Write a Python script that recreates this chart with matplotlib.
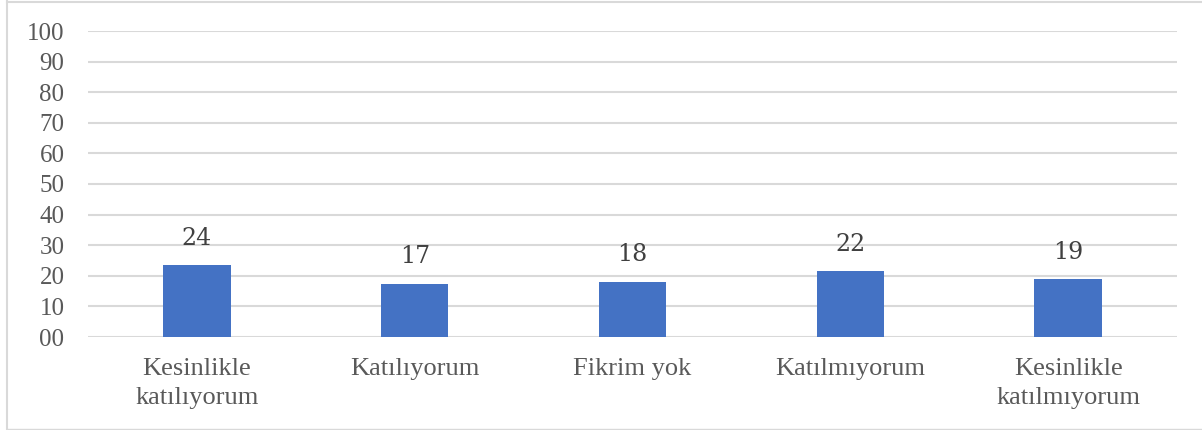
import matplotlib
matplotlib.use("Agg")
import matplotlib.pyplot as plt
from matplotlib.lines import Line2D

categories = ["Kesinlikle\nkatılıyorum", "Katılıyorum", "Fikrim yok", "Katılmıyorum", "Kesinlikle\nkatılmıyorum"]
values = [23.5, 17.4, 18.1, 21.6, 18.9]
value_labels = ["24", "17", "18", "22", "19"]
yticks = [0, 10, 20, 30, 40, 50, 60, 70, 80, 90, 100]
ytick_labels = ["00", "10", "20", "30", "40", "50", "60", "70", "80", "90", "100"]

W, H = 1202, 430
fig = plt.figure(figsize=(W/100, H/100), dpi=100)
ax = fig.add_axes([88/W, 1-337/H, (1177-88)/W, (337-31)/H])

x = list(range(len(categories)))
bars = ax.bar(x, values, width=0.31, color="#4472C4", zorder=3)
ax.set_xlim(-0.5, len(categories)-0.5)
ax.set_ylim(0, 100)
ax.set_yticks(yticks)
ax.set_yticklabels(ytick_labels)
ax.set_xticks(x)
ax.set_xticklabels(categories, linespacing=1.45)
ax.grid(axis="y", color="#D9D9D9", linewidth=1.5, zorder=0)
for s in ax.spines.values():
    s.set_visible(False)
ax.tick_params(axis="both", length=0, colors="#595959")
ax.tick_params(axis="y", pad=17, labelsize=18)
ax.tick_params(axis="x", pad=15, labelsize=19)
for lab in ax.get_xticklabels() + ax.get_yticklabels():
    lab.set_fontfamily("Liberation Serif")

for b, lbl in zip(bars, value_labels):
    ax.annotate(lbl, (b.get_x()+b.get_width()/2, b.get_height()), xytext=(0, 11),
                textcoords="offset points", ha="center", va="bottom",
                fontsize=17, color="#404040", family="DejaVu Serif")

c = "#D9D9D9"
fig.add_artist(Line2D([7/W, 7/W], [0, 1-1/H], color=c, lw=1.5, transform=fig.transFigure))
fig.add_artist(Line2D([7/W, 1], [1-1.5/H, 1-1.5/H], color=c, lw=1.5, transform=fig.transFigure))
fig.add_artist(Line2D([7/W, 1], [1/H, 1/H], color=c, lw=1.0, transform=fig.transFigure))

fig.savefig("out.png", dpi=100)
